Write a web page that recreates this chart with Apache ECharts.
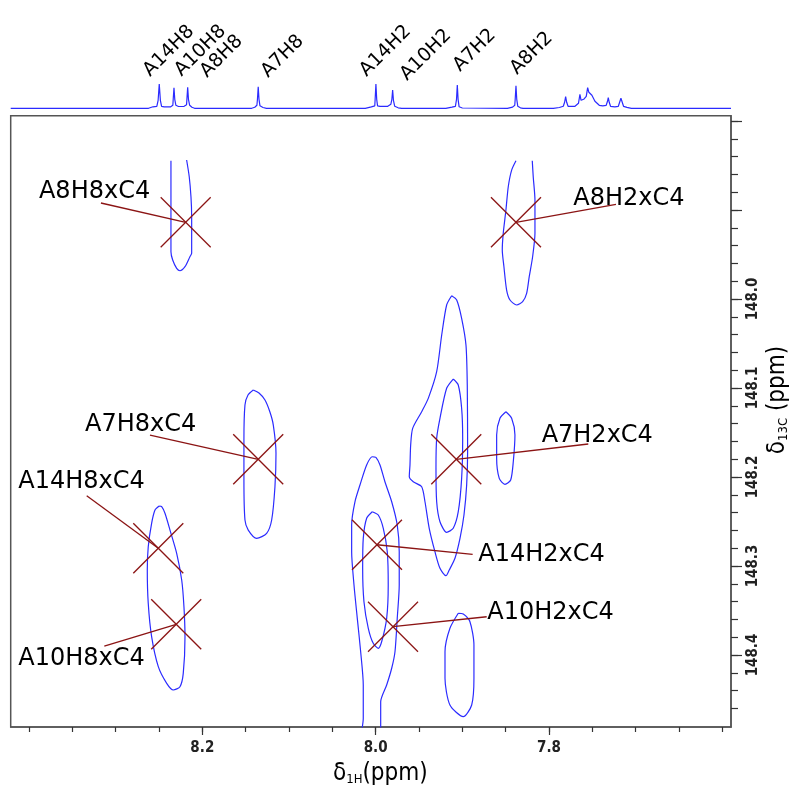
<!DOCTYPE html>
<html><head><meta charset="utf-8">
<script src="https://cdn.jsdelivr.net/npm/echarts@6/dist/echarts.min.js"></script>
<style>html,body{margin:0;padding:0;background:#fff}#c{width:797px;height:791px}</style>
</head><body><div id="c"></div>
<script>
// ---------- axis ticks / labels ----------
const xMinorTicks = [7.60,7.65,7.70,7.75,7.80,7.85,7.90,7.95,8.00,8.05,8.10,8.15,8.20,8.25,8.30,8.35,8.40];
const xMajorTicks = [7.8, 8.0, 8.2];
const yMinorTicks = [147.80,147.82,147.84,147.86,147.88,147.90,147.92,147.94,147.96,147.98,148.00,148.02,148.04,148.06,148.08,148.10,148.12,148.14,148.16,148.18,148.20,148.22,148.24,148.26,148.28,148.30,148.32,148.34,148.36,148.38,148.40,148.42,148.44,148.46];
const yMajorTicks = [147.8, 147.9, 148.0, 148.1, 148.2, 148.3, 148.4];
const yLabelValues = [148.0, 148.1, 148.2, 148.3, 148.4];
const xRange = [7.590, 8.4211];
const yRange = [147.7940, 148.4809];

// ---------- 1D proton spectrum (ppm, intensity) ----------
const spectrum1H = [
 [8.4211,0],[8.2620,0],[8.2570,1.5],[8.2525,2],[8.2510,8],[8.2497,24.3],[8.2484,8],[8.2470,2],[8.2440,1.5],
 [8.2365,1.5],[8.2340,3],[8.2336,9],[8.2327,20.6],[8.2318,9],[8.2305,3],[8.2275,1.8],
 [8.2210,2],[8.2182,3.5],[8.2178,9],[8.2169,21],[8.2160,9],[8.2146,3],[8.2120,1],[8.2090,0],
 [8.1430,0],[8.1395,1],[8.1370,3],[8.1364,9],[8.1355,21.6],[8.1346,9],[8.1335,2.5],[8.1300,0.8],[8.1260,0],
 [8.0120,0],[8.0050,1.5],[8.0010,2.5],[8.0006,9],[7.9997,24.3],[7.9988,9],[7.9978,2.5],[7.9950,2],
 [7.9860,2],[7.9825,4],[7.9813,9],[7.9804,18.3],[7.9795,8],[7.9780,2],[7.9740,0.5],[7.9700,0],
 [7.9190,0],[7.9120,1.2],[7.9080,2],[7.9067,9],[7.9058,23.3],[7.9049,9],[7.9037,1.5],[7.9000,0.3],[7.8980,0],
 [7.8480,0],[7.8420,1.2],[7.8395,3],[7.8390,9],[7.8381,22.6],[7.8372,9],[7.8360,2],[7.8330,0.5],[7.8300,0],
 [7.7950,0],[7.7880,0.8],[7.7835,2],[7.7820,6],[7.7808,11.6],[7.7796,6],[7.7780,2],[7.7700,2],[7.7660,5],
 [7.7643,14],[7.7630,8],[7.7600,9],[7.7570,12],[7.7554,20.6],[7.7540,16],[7.7519,16.6],[7.7505,13],[7.7489,15],
 [7.7470,7],[7.7420,3],[7.7380,2.5],[7.7340,3],[7.7325,7],[7.7316,10.6],[7.7305,6],[7.7290,2],[7.7240,1.5],
 [7.7200,2],[7.7185,6],[7.7170,10],[7.7155,6],[7.7140,2],[7.7100,1],[7.7050,0],[7.5900,0]
];
const peakLabels = ['A14H8','A10H8','A8H8','A7H8','A14H2','A10H2','A7H2','A8H2'];
const peakLabelPos = [[8.2604,31.3],[8.2240,31.6],[8.1946,30.3],[8.1243,30.3],[8.0104,31.3],[7.9639,27.3],[7.9027,36.3],[7.8370,33.3]];

// ---------- 2D contours (1H ppm, 13C ppm) ----------
const contourA8H8 = [[8.2181,147.8438],[8.2151,147.8626],[8.2131,147.8851],[8.2123,147.9075],[8.2123,147.9487],[8.2143,147.9525],[8.2200,147.9637],[8.2258,147.9682],[8.2296,147.9655],[8.2342,147.9562],[8.2362,147.9469],[8.2362,147.8446]];
const contourA8H2 = [[7.8381,147.8446],[7.8431,147.8551],[7.8470,147.8738],[7.8497,147.9000],[7.8528,147.9262],[7.8539,147.9449],[7.8520,147.9637],[7.8489,147.9899],[7.8450,148.0011],[7.8373,148.0067],[7.8304,148.0030],[7.8258,147.9936],[7.8228,147.9749],[7.8189,147.9525],[7.8162,147.9262],[7.8162,147.8888],[7.8182,147.8626],[7.8193,147.8446]];
const contourA7H8 = [[8.1412,148.1022],[8.1346,148.1056],[8.1277,148.1135],[8.1220,148.1270],[8.1181,148.1416],[8.1150,148.1734],[8.1162,148.2109],[8.1200,148.2483],[8.1258,148.2633],[8.1373,148.2689],[8.1470,148.2596],[8.1508,148.2483],[8.1520,148.2034],[8.1520,148.1584],[8.1508,148.1191],[8.1473,148.1079],[8.1412,148.1022]];
const contourA14A10H8 = [[8.2497,148.2326],[8.2546,148.2371],[8.2585,148.2520],[8.2624,148.2783],[8.2635,148.3045],[8.2624,148.3419],[8.2585,148.3794],[8.2508,148.4131],[8.2411,148.4318],[8.2335,148.4393],[8.2258,148.4356],[8.2220,148.4206],[8.2200,148.3794],[8.2212,148.3457],[8.2238,148.3157],[8.2296,148.2857],[8.2373,148.2596],[8.2431,148.2408],[8.2469,148.2334],[8.2497,148.2326]];
const contourA7H2Outer = [[7.9123,147.9963],[7.9181,148.0067],[7.9238,148.0404],[7.9296,148.0817],[7.9393,148.1116],[7.9469,148.1266],[7.9573,148.1453],[7.9596,148.1640],[7.9604,148.1865],[7.9612,148.1997],[7.9566,148.2053],[7.9469,148.2109],[7.9431,148.2278],[7.9382,148.2576],[7.9316,148.2839],[7.9258,148.3026],[7.9189,148.3109],[7.9151,148.3045],[7.9085,148.2913],[7.9027,148.2689],[7.8981,148.2427],[7.8950,148.2090],[7.8939,148.1716],[7.8943,148.0966],[7.8958,148.0517],[7.9008,148.0217],[7.9065,148.0011],[7.9123,147.9963]];
const contourA7H2Inner = [[7.9105,148.0899],[7.9181,148.1003],[7.9258,148.1340],[7.9296,148.1565],[7.9304,148.1902],[7.9296,148.2278],[7.9258,148.2502],[7.9181,148.2621],[7.9105,148.2576],[7.9047,148.2390],[7.9008,148.2015],[7.8996,148.1565],[7.9008,148.1228],[7.9047,148.0966],[7.9105,148.0899]];
const contourSmallRight = [[7.8497,148.1266],[7.8566,148.1340],[7.8604,148.1528],[7.8604,148.1790],[7.8574,148.2015],[7.8508,148.2082],[7.8442,148.2034],[7.8412,148.1828],[7.8393,148.1528],[7.8431,148.1340],[7.8497,148.1266]];
const contourH2Outer = [[8.0170,148.4899],[8.0143,148.4711],[8.0143,148.4337],[8.0173,148.3963],[8.0212,148.3588],[8.0250,148.3213],[8.0277,148.2839],[8.0277,148.2539],[8.0239,148.2278],[8.0181,148.2090],[8.0104,148.1865],[8.0039,148.1772],[7.9997,148.1779],[7.9950,148.1865],[7.9893,148.2053],[7.9815,148.2278],[7.9751,148.2539],[7.9728,148.2839],[7.9728,148.3213],[7.9751,148.3588],[7.9777,148.3963],[7.9815,148.4149],[7.9873,148.4337],[7.9942,148.4525],[7.9942,148.4899]];
const contourH2Inner = [[8.0039,148.2390],[8.0104,148.2464],[8.0143,148.2689],[8.0150,148.3026],[8.0135,148.3401],[8.0085,148.3700],[8.0028,148.3869],[7.9970,148.3925],[7.9931,148.3851],[7.9873,148.3588],[7.9855,148.3213],[7.9866,148.2839],[7.9912,148.2576],[7.9970,148.2427],[8.0039,148.2390]];
const contourSmallLow = [[7.9047,148.3531],[7.9143,148.3700],[7.9200,148.3963],[7.9200,148.4262],[7.9143,148.4562],[7.8989,148.4693],[7.8892,148.4562],[7.8866,148.4262],[7.8866,148.3888],[7.8912,148.3626],[7.8989,148.3539],[7.9047,148.3531]];

// ---------- cross peak assignments ----------
const crossNames = ['A8H8xC4','A8H2xC4','A7H8xC4','A14H8xC4','A10H8xC4','A7H2xC4','A14H2xC4','A10H2xC4'];
const crossCenters = [[8.2192,147.9138],[7.8381,147.9138],[8.1355,148.1801],[8.2508,148.2801],[8.2301,148.3655],[7.9070,148.1801],[7.9985,148.2761],[7.9800,148.3682]];
const crossLabelPos = [[8.3885,147.8876],[7.7720,147.8947],[8.3354,148.1494],[8.4124,148.2135],[8.4124,148.4120],[7.8085,148.1615],[7.8816,148.2952],[7.8712,148.3599]];
const crossLeaderEnd = [[8.3170,147.8921],[7.7227,147.8936],[8.2604,148.1528],[8.3334,148.2210],[8.3131,148.3899],[7.7547,148.1629],[7.8881,148.2869],[7.8719,148.3570]];

const contours = [contourA8H8, contourA8H2, contourA7H8, contourA14A10H8, contourA7H2Outer, contourA7H2Inner, contourSmallRight, contourH2Outer, contourH2Inner, contourSmallLow];

const BLUE = '#2b2bff';
const RED = '#8b1414';
const chart = echarts.init(document.getElementById('c'), null, {renderer: 'canvas'});

const gridRect = {left: 10.7, right: 66, top: 115.7, bottom: 64, show: true, borderColor: '#555', borderWidth: 1.5, backgroundColor: 'transparent', outerBoundsMode: 'none', containLabel: false};
const tickFont = {fontFamily: '"DejaVu Sans Condensed","Liberation Sans Narrow","DejaVu Sans",sans-serif', fontWeight: 'bold', fontSize: 15, color: '#222'};
const titleFont = '"DejaVu Sans Condensed","DejaVu Sans",sans-serif';

const series = contours.map((c, i) => ({
  type: 'line', xAxisIndex: 0, yAxisIndex: 0, data: c, showSymbol: false, symbol: 'none',
  smooth: 0.25, clip: true, silent: true, lineStyle: {color: BLUE, width: 1.2}, z: 2
}));

series.push({
  type: 'custom', xAxisIndex: 0, yAxisIndex: 0, clip: false, silent: true, z: 5,
  data: crossCenters.map((c, i) => [c[0], c[1], crossLabelPos[i][0], crossLabelPos[i][1], crossLeaderEnd[i][0], crossLeaderEnd[i][1]]),
  renderItem: function (params, api) {
    const c = api.coord([api.value(0), api.value(1)]);
    const t = api.coord([api.value(2), api.value(3)]);
    const s = api.coord([api.value(4), api.value(5)]);
    const r = 25;
    const st = {stroke: RED, lineWidth: 1.3};
    return {type: 'group', children: [
      {type: 'line', shape: {x1: c[0]-r, y1: c[1]-r, x2: c[0]+r, y2: c[1]+r}, style: st},
      {type: 'line', shape: {x1: c[0]-r, y1: c[1]+r, x2: c[0]+r, y2: c[1]-r}, style: st},
      {type: 'line', shape: {x1: c[0], y1: c[1], x2: s[0], y2: s[1]}, style: st},
      {type: 'text', x: t[0], y: t[1] + 5, style: {text: crossNames[params.dataIndex], fill: '#000', font: '24px "DejaVu Sans"', align: 'left', verticalAlign: 'bottom'}}
    ]};
  }
});

series.push({
  type: 'line', xAxisIndex: 2, yAxisIndex: 2, data: spectrum1H, showSymbol: false, symbol: 'none',
  clip: false, silent: true, lineStyle: {color: BLUE, width: 1.2}, z: 2
});

series.push({
  type: 'custom', xAxisIndex: 2, yAxisIndex: 2, clip: false, silent: true, z: 5,
  data: peakLabelPos,
  renderItem: function (params, api) {
    const p = api.coord([api.value(0), api.value(1)]);
    return {type: 'text', x: p[0] + 3.2, y: p[1] + 3.2, rotation: Math.PI / 4,
      style: {text: peakLabels[params.dataIndex], fill: '#000', font: '19px "DejaVu Sans"', align: 'left', verticalAlign: 'bottom'}};
  }
});

const option = {
  animation: false,
  backgroundColor: '#fff',
  grid: [
    Object.assign({}, gridRect),
    Object.assign({}, gridRect, {show: false}),
    {left: 10.7, right: 66, top: 60, height: 48.3, show: false, outerBoundsMode: 'none', containLabel: false}
  ],
  xAxis: [
    {type: 'value', gridIndex: 0, min: xRange[0], max: xRange[1], inverse: true, position: 'bottom',
     axisLine: {show: true, lineStyle: {color: '#555', width: 1.5}},
     axisTick: {show: true, inside: false, length: 5, lineStyle: {color: '#333', width: 1.2}, customValues: xMinorTicks},
     axisLabel: {show: false}, splitLine: {show: false}},
    {type: 'value', gridIndex: 1, min: xRange[0], max: xRange[1], inverse: true, position: 'bottom',
     axisLine: {show: false},
     axisTick: {show: true, inside: false, length: 8, lineStyle: {color: '#333', width: 1.2}, customValues: xMajorTicks},
     axisLabel: Object.assign({show: true, margin: 14, customValues: xMajorTicks, formatter: v => v.toFixed(1)}, tickFont),
     splitLine: {show: false}},
    {type: 'value', gridIndex: 2, min: xRange[0], max: xRange[1], inverse: true, show: false}
  ],
  yAxis: [
    {type: 'value', gridIndex: 0, min: yRange[0], max: yRange[1], inverse: true, position: 'right',
     axisLine: {show: true, lineStyle: {color: '#555', width: 1.5}},
     axisTick: {show: true, inside: false, length: 7, lineStyle: {color: '#333', width: 1.2}, customValues: yMinorTicks},
     axisLabel: {show: false}, splitLine: {show: false}},
    {type: 'value', gridIndex: 1, min: yRange[0], max: yRange[1], inverse: true, position: 'right',
     axisLine: {show: false},
     axisTick: {show: true, inside: false, length: 11, lineStyle: {color: '#333', width: 1.2}, customValues: yMajorTicks},
     axisLabel: Object.assign({show: true, margin: 15, rotate: 90, align: 'center', verticalAlign: 'top', customValues: yLabelValues, formatter: v => v.toFixed(1)}, tickFont),
     splitLine: {show: false}},
    {type: 'value', gridIndex: 2, min: 0, max: 48.3, show: false}
  ],
  graphic: [
    {type: 'text', left: 333, top: 762, silent: true,
     style: {text: '{a|δ}{s|1H}{a|(ppm)}', fill: '#000',
       rich: {a: {fontSize: 24, fontFamily: titleFont, lineHeight: 28, verticalAlign: 'bottom'},
              s: {fontSize: 13, fontFamily: titleFont, lineHeight: 13, verticalAlign: 'bottom'}}}},
    {type: 'text', x: 776, y: 400, rotation: Math.PI / 2, silent: true,
     style: {text: '{a|δ}{s|13C}{a| (ppm)}', fill: '#000', align: 'center', verticalAlign: 'middle',
       rich: {a: {fontSize: 24, fontFamily: titleFont, lineHeight: 28, verticalAlign: 'bottom'},
              s: {fontSize: 13, fontFamily: titleFont, lineHeight: 13, verticalAlign: 'bottom'}}}}
  ],
  series: series
};
chart.setOption(option);
</script></body></html>
